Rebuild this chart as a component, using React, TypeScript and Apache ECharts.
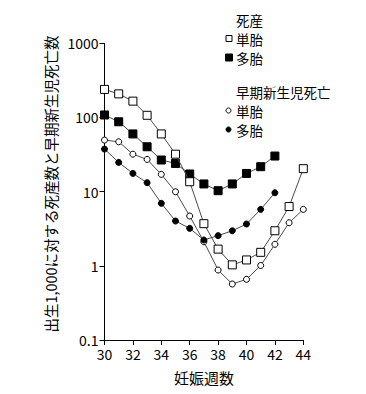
import React, { useEffect, useRef } from "react";
import * as echarts from "echarts";

const weeks = [30, 31, 32, 33, 34, 35, 36, 37, 38, 39, 40, 41, 42, 43, 44];
const stillSingle = [239, 208, 166, 107, 60, 32, 13.6, 3.7, 1.68, 1.03, 1.2, 1.52, 2.97, 6.3, 20.4];
const stillMulti = [108, 87.5, 60, 40.3, 26.7, 24, 17.3, 12.7, 10.3, 12.7, 17.6, 21.7, 30.2];
const neoSingle = [49.6, 47, 32, 27.2, 17.1, 9.97, 4.69, 2.11, 0.878, 0.569, 0.658, 1.01, 1.95, 3.81, 5.77];
const neoMulti = [37.5, 24.8, 17.6, 13.2, 6.96, 4.02, 3.2, 2.23, 2.55, 2.97, 3.66, 5.77, 9.66];

const xTitle = "妊娠週数";
const yTitle = "出生1,000に対する死産数と早期新生児死亡数";
const legendStill = "死産";
const legendNeo = "早期新生児死亡";
const labelSingle = "単胎";
const labelMulti = "多胎";

const FONT = "'Noto Sans CJK JP', sans-serif";

export default function App() {
  const ref = useRef<HTMLDivElement>(null);
  useEffect(() => {
    if (!ref.current) return;
    const chart = echarts.init(ref.current, null, { renderer: "svg" });
    const pairs = (vals: number[]) => vals.map((v, i) => [weeks[i], v]);
    const lineStyle = { color: "#4a4a4a", width: 1 };
    const textStyle = { fontFamily: FONT, fontSize: 14, fill: "#000" };
    const legendText = { ...textStyle, fontSize: 13.5, lineHeight: 14 };
    chart.setOption({
      animation: false,
      backgroundColor: "#fff",
      textStyle: { fontFamily: FONT },
      grid: { left: 104.5, right: 62.7, top: 43.3, bottom: 54, containLabel: false },
      xAxis: {
        type: "value",
        min: 30,
        max: 44,
        interval: 2,
        splitLine: { show: false },
        axisLine: { lineStyle: { color: "#000", width: 1 } },
        axisTick: { show: true, length: 5, lineStyle: { color: "#000" } },
        axisLabel: { color: "#000", fontSize: 14, fontFamily: FONT, margin: 7 },
        name: xTitle,
        nameLocation: "middle",
        nameGap: 30,
        nameTextStyle: { color: "#000", fontSize: 15, fontFamily: FONT },
      },
      yAxis: {
        type: "log",
        logBase: 10,
        min: 0.1,
        max: 1000,
        splitLine: { show: false },
        axisLine: { show: true, lineStyle: { color: "#000", width: 1 } },
        axisTick: { show: true, length: 5, lineStyle: { color: "#000" } },
        axisLabel: {
          color: "#000",
          fontSize: 14,
          fontFamily: FONT,
          margin: 6,
          formatter: (v: number) => (v < 1 ? String(Math.round(v * 10) / 10) : String(Math.round(v))),
        },
      },
      series: [
        {
          type: "line",
          data: pairs(stillSingle),
          symbol: "rect",
          symbolSize: 8,
          lineStyle,
          itemStyle: { color: "#fff", borderColor: "#000", borderWidth: 1 },
          z: 4,
        },
        {
          type: "line",
          data: pairs(stillMulti),
          symbol: "rect",
          symbolSize: 8,
          lineStyle,
          itemStyle: { color: "#000", borderColor: "#000", borderWidth: 1 },
          z: 3,
        },
        {
          type: "line",
          data: pairs(neoSingle),
          symbol: "circle",
          symbolSize: 6,
          lineStyle,
          itemStyle: { color: "#fff", borderColor: "#000", borderWidth: 1 },
          z: 2,
        },
        {
          type: "line",
          data: pairs(neoMulti),
          symbol: "circle",
          symbolSize: 6,
          lineStyle,
          itemStyle: { color: "#000", borderColor: "#000", borderWidth: 1 },
          z: 2,
        },
      ],
      graphic: [
        {
          type: "text",
          x: 50,
          y: 184,
          rotation: Math.PI / 2,
          style: { ...textStyle, fontSize: 14.5, text: yTitle, align: "center", verticalAlign: "middle" },
        },
        { type: "text", x: 236, y: 19.5, style: { ...legendText, text: legendStill, verticalAlign: "middle" } },
        { type: "rect", shape: { x: 226, y: 35.5, width: 6, height: 6 }, style: { fill: "#fff", stroke: "#000", lineWidth: 1 } },
        { type: "text", x: 236, y: 38.5, style: { ...legendText, text: labelSingle, verticalAlign: "middle" } },
        { type: "rect", shape: { x: 225.5, y: 54, width: 7, height: 7 }, style: { fill: "#000", stroke: "#000", lineWidth: 1 } },
        { type: "text", x: 236, y: 57.5, style: { ...legendText, text: labelMulti, verticalAlign: "middle" } },
        { type: "text", x: 236, y: 91.5, style: { ...legendText, text: legendNeo, verticalAlign: "middle" } },
        { type: "circle", shape: { cx: 228.5, cy: 110.5, r: 2.5 }, style: { fill: "#fff", stroke: "#000", lineWidth: 1 } },
        { type: "text", x: 236, y: 110.5, style: { ...legendText, text: labelSingle, verticalAlign: "middle" } },
        { type: "circle", shape: { cx: 228.5, cy: 129.5, r: 2.5 }, style: { fill: "#000", stroke: "#000", lineWidth: 1 } },
        { type: "text", x: 236, y: 129.5, style: { ...legendText, text: labelMulti, verticalAlign: "middle" } },
      ],
    });
    return () => chart.dispose();
  }, []);
  return <div ref={ref} style={{ width: 366, height: 394, position: "absolute", left: 0, top: 0 }} />;
}
